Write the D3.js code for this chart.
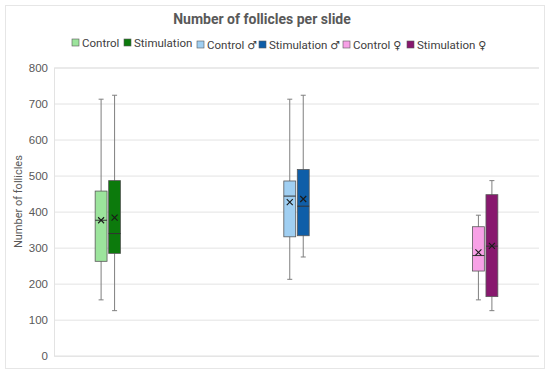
<!DOCTYPE html>
<html>
<head>
<meta charset="utf-8">
<script src="https://cdn.jsdelivr.net/npm/d3@7"></script>
<style>
  body { margin: 0; background: #fff; }
  svg { display: block; font-family: Roboto, "Liberation Sans", "DejaVu Sans", sans-serif; }
</style>
</head>
<body>
<svg id="chart" width="550" height="374"></svg>
<script>
// groups on the x axis (no labels shown) and the six series
const categories = ['A', 'B', 'C'];
const seriesNames = ['Control', 'Stimulation', 'Control', 'Stimulation', 'Control', 'Stimulation'];
const seriesSymbols = ['', '', '♂', '♂', '♀', '♀'];
const seriesGroup = [0, 0, 1, 1, 2, 2];
const seriesColors = ['#9ce49c', '#0c7a0c', '#a0cff2', '#0f5ea8', '#f7a1e6', '#88186e'];

// box stats
const mins    = [155, 125, 212, 274, 155, 125];
const q1s     = [262, 284, 330, 333, 235, 164];
const medians = [376, 339, 443, 415, 278, 304];
const q3s     = [457, 486, 485, 517, 358, 447];
const maxs    = [712, 723, 712, 723, 390, 486];
const means   = [376, 383, 426, 435, 287, 305];

const yTicks = [0, 100, 200, 300, 400, 500, 600, 700, 800];

const svg = d3.select('#chart');
const plot = {left: 54, right: 539, top: 67.5, bottom: 355.7};

// chart frame
svg.append('rect')
    .attr('x', 5.5).attr('y', 5.5)
    .attr('width', 539).attr('height', 363)
    .attr('fill', '#fff').attr('stroke', '#e6e6e6');

svg.append('text')
    .attr('x', 262).attr('y', 24)
    .attr('text-anchor', 'middle')
    .attr('font-size', 14).attr('font-weight', 700)
    .attr('fill', '#595959')
    .text('Number of follicles per slide');

const y = d3.scaleLinear().domain([0, 800]).range([plot.bottom, plot.top]);
const x = d3.scaleBand().domain(categories).range([plot.left, plot.right]);
const slot = d3.scaleBand().domain(d3.range(6))
    .range([0, x.bandwidth()])
    .paddingInner(0.12).paddingOuter(3.05);

// grid
const yAxis = d3.axisLeft(y).tickValues(yTicks).tickSize(-(plot.right - plot.left)).tickPadding(6);
const ga = svg.append('g').attr('transform', `translate(${plot.left},0)`).call(yAxis);
ga.select('.domain').attr('stroke', '#e3e3e3');
ga.selectAll('.tick line').attr('stroke', '#e3e3e3');
ga.selectAll('.tick text').attr('fill', '#595959').attr('font-size', 11.5);

svg.append('text')
    .attr('transform', `translate(22,${(plot.top + plot.bottom) / 2 - 10}) rotate(-90)`)
    .attr('text-anchor', 'middle')
    .attr('font-size', 11).attr('fill', '#595959')
    .text('Number of follicles');

// boxes
const data = seriesNames.map((name, i) => ({
    name, i,
    sym: seriesSymbols[i],
    cat: categories[seriesGroup[i]],
    min: mins[i], q1: q1s[i], med: medians[i], q3: q3s[i], max: maxs[i], mean: means[i],
    color: seriesColors[i]
}));

const bw = slot.bandwidth();
const cells = svg.selectAll('g.box')
    .data(data)
    .join('g')
    .attr('class', 'box')
    .attr('transform', d => `translate(${x(d.cat) + slot(d.i)},0)`);

cells.append('line')
    .attr('x1', bw / 2).attr('x2', bw / 2)
    .attr('y1', d => y(d.max)).attr('y2', d => y(d.min))
    .attr('stroke', '#7f7f7f').attr('stroke-width', 1);
cells.selectAll('line.cap')
    .data(d => [d.max, d.min])
    .join('line')
    .attr('class', 'cap')
    .attr('x1', bw / 2 - 2.5).attr('x2', bw / 2 + 2.5)
    .attr('y1', v => y(v)).attr('y2', v => y(v))
    .attr('stroke', '#7f7f7f');
cells.append('rect')
    .attr('x', 0).attr('width', bw)
    .attr('y', d => y(d.q3))
    .attr('height', d => y(d.q1) - y(d.q3))
    .attr('fill', d => d.color)
    .attr('stroke', '#595959').attr('stroke-width', 0.8);
cells.append('line')
    .attr('x1', 0).attr('x2', bw)
    .attr('y1', d => y(d.med)).attr('y2', d => y(d.med))
    .attr('stroke', '#333').attr('stroke-width', 1);
cells.append('path')
    .attr('d', d => {
        const cx = bw / 2, cy = y(d.mean), r = 3;
        return `M${cx - r},${cy - r}L${cx + r},${cy + r}M${cx - r},${cy + r}L${cx + r},${cy - r}`;
    })
    .attr('stroke', '#1a1a1a').attr('stroke-width', 1.1);

// legend
const legendX = [72, 124, 197, 259, 343, 407];
const leg = svg.selectAll('g.leg')
    .data(data)
    .join('g')
    .attr('class', 'leg')
    .attr('transform', (d, i) => `translate(${legendX[i]},${i < 2 ? 39 : 41})`);
leg.append('rect')
    .attr('width', 7).attr('height', 7)
    .attr('fill', d => d.color)
    .attr('stroke', '#595959').attr('stroke-width', 0.6);
const lt = leg.append('text')
    .attr('x', 10).attr('y', 7.5)
    .attr('font-size', 11.5).attr('fill', '#404040');
lt.append('tspan').text(d => d.name);
lt.filter(d => d.sym)
    .append('tspan')
    .attr('font-family', '"DejaVu Sans"')
    .attr('font-size', 11)
    .attr('dx', 3)
    .text(d => d.sym);
</script>
</body>
</html>
